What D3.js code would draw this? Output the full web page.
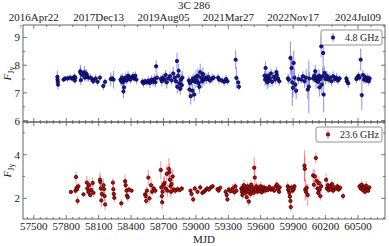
<!DOCTYPE html>
<html>
<head>
<meta charset="utf-8">
<script src="https://cdn.jsdelivr.net/npm/d3@7"></script>
<style>
  body { margin: 0; background: #fff; }
  text { font-family: "Liberation Serif", "DejaVu Serif", serif; fill: #222; }
</style>
</head>
<body>
<div id="chart"></div>
<script>
var svgWidth = 389;
var svgHeight = 246;
var margin = { top: 25, right: 4, bottom: 28, left: 23 };
var width = svgWidth - margin.left - margin.right;
var panelH = 97;
var panelGap = 0;

// 4.8 GHz light curve: MJD, flux (Jy), error
var mjd5 = [57718,57720,57722,57724,
  57775,57790,57812,57835,57855,57875,57880,57885,
  57930,57932,57935,57950,57968,57972,57988,57992,58007,
  58025,58045,58050,58072,58090,58112,58143,58160,
  58212,58225,58238,
  58302,58310,58318,58325,58330,58335,58342,58350,58360,58372,58385,58395,58410,58420,58430,58440,58450,
  58505,58515,58530,58545,58560,58575,58590,58605,58618,58625,58632,58640,
  58675,58685,58695,58710,58720,58730,58745,58760,58775,58790,58805,58815,58825,58828,58835,58840,58848,58855,58862,58870,58875,
  58935,58940,58945,58952,58960,58968,58975,58985,58992,59000,59008,59018,59025,59032,59040,59048,59058,59065,59075,59085,59100,59115,59130,59150,59165,
  59205,59215,59240,59262,59280,59292,
  59368,59375,59392,59398,
  59635,59640,59645,59652,59660,59668,59675,59685,59695,59705,59720,59735,59745,59748,59760,59772,
  59852,59860,59875,59885,59892,59898,59905,59912,59920,59928,59950,59975,59990,60005,60020,60035,60045,60050,
  60085,60095,60105,60112,60120,60130,60140,60145,60150,60160,60165,60172,60178,60182,60190,60200,60212,60225,60240,60255,60270,60285,60300,60315,60330,
  60392,60398,60410,
  60485,60492,60505,60515,60525,60535,60545,60555,60565,60575,60590,60600,60608];
var flux5 = [7.58,7.48,7.40,7.30,
  7.48,7.52,7.52,7.55,7.52,7.58,7.45,7.55,
  7.78,7.72,7.46,7.65,7.75,7.55,7.68,7.60,7.55,
  7.55,7.48,7.42,7.52,7.40,7.55,7.25,7.40,
  7.50,7.52,7.48,
  7.48,7.42,7.55,7.38,7.05,7.20,7.48,7.55,7.45,7.62,7.55,7.48,7.58,7.60,7.52,7.62,7.48,
  7.40,7.35,7.42,7.38,7.44,7.36,7.48,7.40,7.50,7.38,7.96,7.55,
  7.50,7.42,7.55,7.48,7.65,7.38,7.52,7.60,7.45,7.70,7.55,7.42,8.15,7.22,7.62,7.80,7.35,7.15,7.48,7.28,7.55,
  7.45,7.12,7.36,6.88,7.42,7.08,7.52,6.94,7.40,7.58,7.45,7.62,7.35,7.22,7.75,7.55,7.42,7.68,7.48,7.55,7.50,7.58,7.45,7.52,7.55,
  7.55,7.48,7.45,7.40,7.50,7.42,
  8.20,7.54,7.38,7.22,
  7.62,7.48,7.90,7.55,7.38,7.62,7.45,7.52,7.70,7.40,7.58,7.48,7.75,7.65,7.52,7.42,
  7.52,7.48,8.26,7.90,7.38,7.18,8.08,7.55,7.30,7.08,7.50,7.48,7.60,7.42,7.55,7.12,7.22,7.52,
  7.52,7.62,7.78,7.45,7.55,7.40,7.62,7.20,7.50,8.68,7.30,7.60,8.44,6.94,7.72,7.50,7.62,7.48,7.55,7.42,7.60,7.50,7.55,7.45,7.52,
  7.52,7.42,7.35,
  7.50,7.55,7.62,7.55,8.20,6.92,7.65,7.48,7.58,7.45,7.55,7.42,7.52];
var err5 = [0.22,0.18,0.18,0.18,
  0.10,0.10,0.12,0.12,0.12,0.14,0.12,0.12,
  0.24,0.22,0.18,0.18,0.22,0.15,0.18,0.18,0.15,
  0.15,0.15,0.12,0.15,0.15,0.12,0.15,0.12,
  0.24,0.12,0.32,
  0.18,0.18,0.15,0.24,0.24,0.18,0.15,0.18,0.15,0.18,0.15,0.15,0.12,0.15,0.12,0.15,0.15,
  0.12,0.15,0.12,0.12,0.15,0.18,0.15,0.15,0.18,0.18,0.22,0.18,
  0.15,0.18,0.15,0.15,0.18,0.22,0.15,0.18,0.15,0.24,0.18,0.18,0.30,0.24,0.18,0.24,0.30,0.22,0.24,0.18,0.24,
  0.18,0.24,0.18,0.30,0.18,0.24,0.18,0.24,0.22,0.24,0.24,0.26,0.24,0.24,0.30,0.24,0.24,0.24,0.22,0.18,0.18,0.18,0.15,0.18,0.12,
  0.15,0.15,0.12,0.15,0.15,0.12,
  0.34,0.38,0.12,0.12,
  0.18,0.24,0.24,0.18,0.24,0.18,0.24,0.18,0.18,0.18,0.18,0.18,0.18,0.15,0.18,0.15,
  0.15,0.18,0.60,0.45,0.85,0.34,0.45,0.34,0.34,0.30,0.18,0.15,0.18,0.24,0.30,0.34,0.95,0.24,
  0.15,0.24,0.24,0.30,0.18,0.24,0.22,0.34,0.18,0.40,0.34,0.30,0.70,0.65,0.24,0.18,0.18,0.15,0.18,0.18,0.18,0.15,0.18,0.15,0.12,
  0.15,0.15,0.18,
  0.15,0.12,0.15,0.12,0.40,0.55,0.18,0.15,0.15,0.12,0.15,0.15,0.12];

// 23.6 GHz light curve
var mjd23 = [57843,
  57885,57890,57895,57900,57905,57912,
  57960,
  57990,57995,58005,58012,58022,58030,58045,58052,
  58112,58116,58120,58125,58130,58145,58150,58155,58160,
  58232,58236,58240,58245,
  58310,
  58345,58350,58358,58362,58370,58380,58405,
  58530,58535,58540,58548,58560,58570,58585,58595,58610,58625,
  58675,58680,58685,58688,58692,58700,58710,58720,58730,58738,58750,58755,58760,58765,58770,58775,58785,58795,58810,58830,58850,58870,
  58950,58960,58975,58990,59015,59040,59060,59075,59090,59105,59120,59140,59155,
  59200,59210,59225,
  59275,59285,59292,59305,59320,59340,59355,59365,59375,
  59420,59425,59430,59440,59445,59450,59458,59465,59470,59478,59485,59490,59498,59505,59512,59518,59525,59535,59540,59545,59552,59560,59570,59580,59590,59600,59610,59618,
  59630,59640,59650,59665,59680,59695,59710,59725,59740,59750,59760,59770,59775,
  59850,59855,59860,59865,59870,59875,59878,59885,59895,59905,59912,
  60005,60008,60012,60018,60025,60035,
  60085,60092,60100,60110,60118,60125,60132,60138,60145,60152,60160,
  60205,60212,60220,60230,60240,60250,60260,60270,60280,60295,60310,60320,60335,60362,
  60515,60525,60535,60545,60555,60565,60575,60585,60595,60605];
var flux23 = [2.29,
  2.35,2.98,2.48,2.42,1.88,2.55,
  2.18,
  2.72,2.45,2.30,2.60,2.15,2.38,2.70,2.25,
  2.85,2.75,2.45,1.90,2.20,2.60,2.42,2.10,1.72,
  2.72,2.42,2.20,2.02,
  1.77,
  2.78,2.60,2.35,2.12,2.05,2.40,2.35,
  2.18,2.10,1.88,2.35,2.95,2.00,2.60,2.30,2.45,2.35,
  3.30,2.50,2.10,1.82,2.30,2.62,2.70,2.45,3.12,2.35,3.35,3.20,2.85,2.55,2.30,2.65,3.00,2.40,2.35,2.42,2.38,2.45,
  2.35,2.20,1.95,2.45,2.30,2.50,2.25,2.30,2.38,2.45,2.40,2.50,2.55,
  2.42,2.35,2.48,
  2.30,2.15,1.95,2.40,2.32,2.45,2.28,2.55,2.35,
  2.45,2.30,2.15,2.50,2.60,2.35,2.25,2.40,2.05,2.55,2.30,1.85,2.45,2.20,2.62,2.38,2.50,2.25,3.40,2.95,2.40,2.55,2.30,2.45,2.35,2.55,2.28,2.45,
  2.50,2.35,2.45,2.38,2.52,2.40,2.45,2.35,2.55,2.62,2.42,2.30,2.50,
  2.55,2.38,2.45,2.25,2.08,1.88,1.60,2.50,2.35,2.42,2.55,
  3.50,3.35,2.40,2.30,2.48,2.15,
  3.05,2.62,3.00,3.85,2.80,2.45,2.25,2.70,2.40,2.10,2.55,
  2.85,2.45,2.60,2.38,2.55,2.42,2.65,2.35,2.50,2.45,2.55,2.40,2.48,2.10,
  2.55,2.45,2.62,2.38,2.50,2.30,2.58,2.42,2.35,2.50];
var err23 = [0.05,
  0.15,0.25,0.20,0.20,0.20,0.15,
  0.10,
  0.30,0.25,0.20,0.25,0.15,0.20,0.25,0.20,
  0.35,0.30,0.30,0.30,0.20,0.30,0.25,0.20,0.25,
  0.20,0.25,0.20,0.20,
  0.20,
  0.30,0.25,0.20,0.20,0.20,0.15,0.10,
  0.20,0.20,0.20,0.20,0.35,0.25,0.30,0.20,0.15,0.15,
  0.40,0.30,0.30,0.30,0.30,0.35,0.30,0.30,0.40,0.30,0.50,0.40,0.35,0.30,0.30,0.30,0.35,0.20,0.15,0.15,0.12,0.10,
  0.10,0.15,0.15,0.15,0.12,0.15,0.12,0.12,0.10,0.10,0.10,0.12,0.10,
  0.10,0.10,0.12,
  0.15,0.12,0.12,0.15,0.10,0.20,0.15,0.15,0.15,
  0.20,0.15,0.20,0.20,0.25,0.20,0.25,0.20,0.20,0.20,0.20,0.20,0.25,0.20,0.20,0.15,0.20,0.20,0.50,0.40,0.20,0.20,0.15,0.20,0.15,0.20,0.15,0.15,
  0.15,0.15,0.12,0.12,0.15,0.12,0.12,0.12,0.20,0.20,0.15,0.12,0.15,
  0.20,0.15,0.15,0.20,0.20,0.20,0.20,0.15,0.15,0.15,0.12,
  0.70,0.60,0.50,0.30,0.20,0.50,
  0.30,0.20,0.30,0.25,0.30,0.30,0.20,0.30,0.20,0.20,0.25,
  0.30,0.20,0.20,0.15,0.20,0.15,0.20,0.15,0.20,0.15,0.15,0.12,0.12,0.15,
  0.15,0.12,0.20,0.20,0.15,0.15,0.20,0.15,0.12,0.10];

// top axis: calendar dates for MJD 57500 + k*600
var dateTicks = [57500, 58100, 58700, 59300, 59900, 60500];
var dateLabels = ["2016Apr22", "2017Dec13", "2019Aug05", "2021Mar27", "2022Nov17", "2024Jul09"];
var mjdTicks = [57500, 57800, 58100, 58400, 58700, 59000, 59300, 59600, 59900, 60200, 60500];

var svg = d3.select("#chart").append("svg")
  .attr("width", svgWidth)
  .attr("height", svgHeight);

var x = d3.scaleLinear().domain([57400, 60750]).range([margin.left, margin.left + width]);

var panels = [
  { mjd: mjd5, flux: flux5, err: err5, top: margin.top, domain: [5.95, 9.45], ticks: [6, 7, 8, 9], minor: d3.range(6, 9.5, 0.5),
    fill: "#1414c8", bar: "rgba(50,50,240,0.5)", label: "4.8 GHz", lw: 61 },
  { mjd: mjd23, flux: flux23, err: err23, top: margin.top + panelH + panelGap, domain: [1.05, 5.5], ticks: [2, 4], minor: d3.range(2, 6, 1),
    fill: "#e00000", bar: "rgba(245,50,50,0.5)", label: "23.6 GHz", lw: 66 }
];

var frame = "#555";

panels.forEach(function(p, i) {
  var y = d3.scaleLinear().domain(p.domain).range([p.top + panelH, p.top]);
  var g = svg.append("g");
  var x0 = margin.left, x1 = margin.left + width, y0 = p.top + panelH, y1 = p.top;

  // error bars
  g.selectAll("line.err").data(p.mjd).enter().append("line")
    .attr("x1", d => x(d)).attr("x2", d => x(d))
    .attr("y1", (d, j) => y(p.flux[j] - p.err[j]))
    .attr("y2", (d, j) => y(p.flux[j] + p.err[j]))
    .attr("stroke", p.bar).attr("stroke-width", 1.1);

  g.selectAll("circle").data(p.mjd).enter().append("circle")
    .attr("cx", d => x(d))
    .attr("cy", (d, j) => y(p.flux[j]))
    .attr("r", 1.7)
    .attr("fill", p.fill)
    .attr("stroke", "#000").attr("stroke-width", 0.7);

  // frame
  g.append("rect").attr("x", x0).attr("y", y1).attr("width", width).attr("height", panelH)
    .attr("fill", "none").attr("stroke", frame).attr("stroke-width", 0.9);

  // x ticks on bottom & top edge, inward
  var xMinor = d3.range(57440, 60750, 60);
  var tk = g.append("g").attr("stroke", frame).attr("stroke-width", 0.8);
  xMinor.forEach(function(m) {
    var major = mjdTicks.indexOf(m) >= 0;
    var len = major ? 4 : 2;
    tk.append("line").attr("x1", x(m)).attr("x2", x(m)).attr("y1", y0).attr("y2", y0 - len);
    if (i === 1) tk.append("line").attr("x1", x(m)).attr("x2", x(m)).attr("y1", y1).attr("y2", y1 + len);
  });
  if (i === 0) {
    d3.range(57380, 60750, 120).forEach(function(m) {
      var len = dateTicks.indexOf(m) >= 0 ? 4 : 2;
      tk.append("line").attr("x1", x(m)).attr("x2", x(m)).attr("y1", y1).attr("y2", y1 + len);
    });
  }
  // y ticks, both sides
  p.minor.forEach(function(v) {
    if (v < p.domain[0] || v > p.domain[1]) return;
    var len = p.ticks.indexOf(v) >= 0 ? 4 : 2;
    tk.append("line").attr("x1", x0).attr("x2", x0 + len).attr("y1", y(v)).attr("y2", y(v));
    tk.append("line").attr("x1", x1).attr("x2", x1 - len).attr("y1", y(v)).attr("y2", y(v));
  });

  g.selectAll("text.yt").data(p.ticks).enter().append("text")
    .attr("x", x0 - 3).attr("y", d => y(d) + 4)
    .attr("text-anchor", "end").attr("font-size", 11)
    .text(d => d);

  // y label F_Jy
  var yl = g.append("text")
    .attr("transform", "translate(11," + (p.top + panelH / 2) + ") rotate(-90)")
    .attr("text-anchor", "middle").attr("font-size", 11);
  yl.append("tspan").attr("font-style", "italic").text("F");
  yl.append("tspan").attr("font-size", 8).attr("dy", 2.5).text("Jy");

  // legend
  var lx = x1 - 3 - p.lw, ly = y1 + 5;
  var lg = g.append("g");
  lg.append("rect").attr("x", lx).attr("y", ly).attr("width", p.lw).attr("height", 15)
    .attr("rx", 2).attr("fill", "#fff").attr("stroke", "#777").attr("stroke-width", 0.8);
  lg.append("line").attr("x1", lx + 12).attr("x2", lx + 12).attr("y1", ly + 3).attr("y2", ly + 12)
    .attr("stroke", p.bar).attr("stroke-width", 1.1);
  lg.append("circle").attr("cx", lx + 12).attr("cy", ly + 7.5).attr("r", 1.7)
    .attr("fill", p.fill).attr("stroke", "#000").attr("stroke-width", 0.7);
  lg.append("text").attr("x", lx + p.lw - 3).attr("y", ly + 11)
    .attr("text-anchor", "end").attr("font-size", 10).text(p.label);
});

// bottom MJD labels
svg.selectAll("text.mjd").data(mjdTicks).enter().append("text")
  .attr("x", d => x(d)).attr("y", 230)
  .attr("text-anchor", "middle").attr("font-size", 11)
  .text(d => d);

svg.append("text").attr("x", margin.left + width / 2).attr("y", 243)
  .attr("text-anchor", "middle").attr("font-size", 11).text("MJD");

// top date labels
svg.selectAll("text.date").data(dateTicks).enter().append("text")
  .attr("x", d => x(d)).attr("y", 21)
  .attr("text-anchor", "middle").attr("font-size", 11)
  .text((d, i) => dateLabels[i]);

svg.append("text").attr("x", margin.left + width / 2 - 10).attr("y", 9)
  .attr("text-anchor", "middle").attr("font-size", 11).text("3C 286");
</script>
</body>
</html>
